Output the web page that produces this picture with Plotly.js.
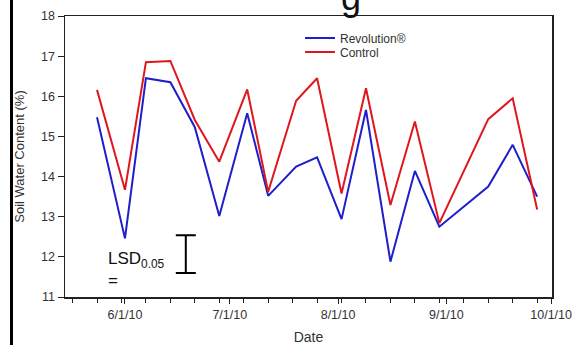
<!DOCTYPE html>
<html>
<head>
<meta charset="utf-8">
<script src="https://cdn.plot.ly/plotly-3.0.1.min.js"></script>
<style>html,body{margin:0;padding:0;background:#fff;}#chart{width:573px;height:345px;}</style>
</head>
<body>
<div id="chart"></div>
<script>
// Sampling dates
var dates = ['2010-05-24','2010-06-01','2010-06-07','2010-06-14','2010-06-21','2010-06-28',
             '2010-07-06','2010-07-12','2010-07-20','2010-07-26','2010-08-02','2010-08-09',
             '2010-08-16','2010-08-23','2010-08-30','2010-09-13','2010-09-20','2010-09-27'];
// Soil water content (%)
var revolution = [15.48,12.46,16.45,16.35,15.23,13.02,15.58,13.52,14.25,14.48,12.94,15.66,
                  11.88,14.14,12.75,13.75,14.79,13.50];
var control    = [16.16,13.67,16.85,16.88,15.41,14.37,16.17,13.62,15.89,16.45,13.58,16.20,
                  13.29,15.37,12.84,15.43,15.95,13.18];
// LSD(0.05) bar
var lsdDate = ['2010-06-18 10:00'];
var lsdCenter = [12.07];
var lsdHalf = [0.47];

var FONT = 'Liberation Sans, Arial, sans-serif';
var W = 573, H = 345, L = 65, R = 21, T = 16, B = 48;
var pw = W - L - R, ph = H - T - B;
function px(x){ return (x - L) / pw; }
function py(y){ return (H - B - y) / ph; }

var traces = [
  {x: dates, y: revolution, type: 'scatter', mode: 'lines', name: 'Revolution®',
   line: {color: '#1e1ecb', width: 2}, legend: 'legend'},
  {x: dates, y: control, type: 'scatter', mode: 'lines', name: 'Control',
   line: {color: '#e0161e', width: 2}, legend: 'legend2'},
  {x: lsdDate, y: lsdCenter, type: 'scatter', mode: 'markers', showlegend: false,
   marker: {size: 1, color: 'rgba(0,0,0,0)'}, hoverinfo: 'skip',
   error_y: {type: 'data', array: lsdHalf, symmetric: true, color: '#000', thickness: 2, width: 10}}
];

var layout = {
  width: W, height: H,
  margin: {l: L, r: R, t: T, b: B},
  paper_bgcolor: '#fff', plot_bgcolor: '#fff',
  font: {family: FONT, color: '#333'},
  showlegend: true,
  legend: {x: px(300), y: py(38), xanchor: 'left', yanchor: 'middle', bgcolor: 'rgba(0,0,0,0)',
           font: {family: FONT, size: 12, color: '#333'}},
  legend2: {x: px(300), y: py(52), xanchor: 'left', yanchor: 'middle', bgcolor: 'rgba(0,0,0,0)',
           font: {family: FONT, size: 12, color: '#333'}},
  xaxis: {
    type: 'date', range: ['2010-05-14 20:00', '2010-10-01 06:00'],
    tick0: '2010-06-01', dtick: 'M1', tickformat: '%-m/%-d/%y',
    ticks: 'outside', ticklen: 5, tickwidth: 1, tickcolor: '#222',
    minor: {ticks: 'outside', tick0: '2010-05-17', dtick: 7*86400000, ticklen: 4, tickcolor: '#222', showgrid: false},
    showline: true, linecolor: '#222', linewidth: 1.5, mirror: true,
    showgrid: false, zeroline: false,
    tickfont: {family: FONT, size: 12.5, color: '#333'},
    title: {text: 'Date', font: {family: FONT, size: 14, color: '#333'}, standoff: 11}
  },
  yaxis: {
    range: [11, 18], dtick: 1, tick0: 11,
    ticks: 'outside', ticklen: 6, tickwidth: 1, tickcolor: '#222',
    showline: true, linecolor: '#222', linewidth: 1.5, mirror: true,
    showgrid: false, zeroline: false,
    tickfont: {family: FONT, size: 12.5, color: '#333'},
    title: {text: 'Soil Water Content (%)', font: {family: FONT, size: 13, color: '#333'}, standoff: 13}
  },
  annotations: [
    {xref: 'paper', yref: 'paper', x: px(106), y: py(269.5), xanchor: 'left', yanchor: 'middle',
     align: 'left', showarrow: false, text: 'LSD<sub>0.05</sub><br>=',
     font: {family: FONT, size: 17, color: '#111'}},
    {xref: 'paper', yref: 'paper', x: px(351), y: py(-3), xanchor: 'center', yanchor: 'middle',
     showarrow: false, text: 'g', font: {family: FONT, size: 36, color: '#111'}}
  ],
  shapes: [
    {type: 'line', xref: 'paper', yref: 'paper', x0: px(11.5), x1: px(11.5), y0: py(0), y1: py(345),
     line: {color: '#000', width: 3}}
  ]
};

Plotly.newPlot('chart', traces, layout, {displayModeBar: false, staticPlot: true});
</script>
</body>
</html>
